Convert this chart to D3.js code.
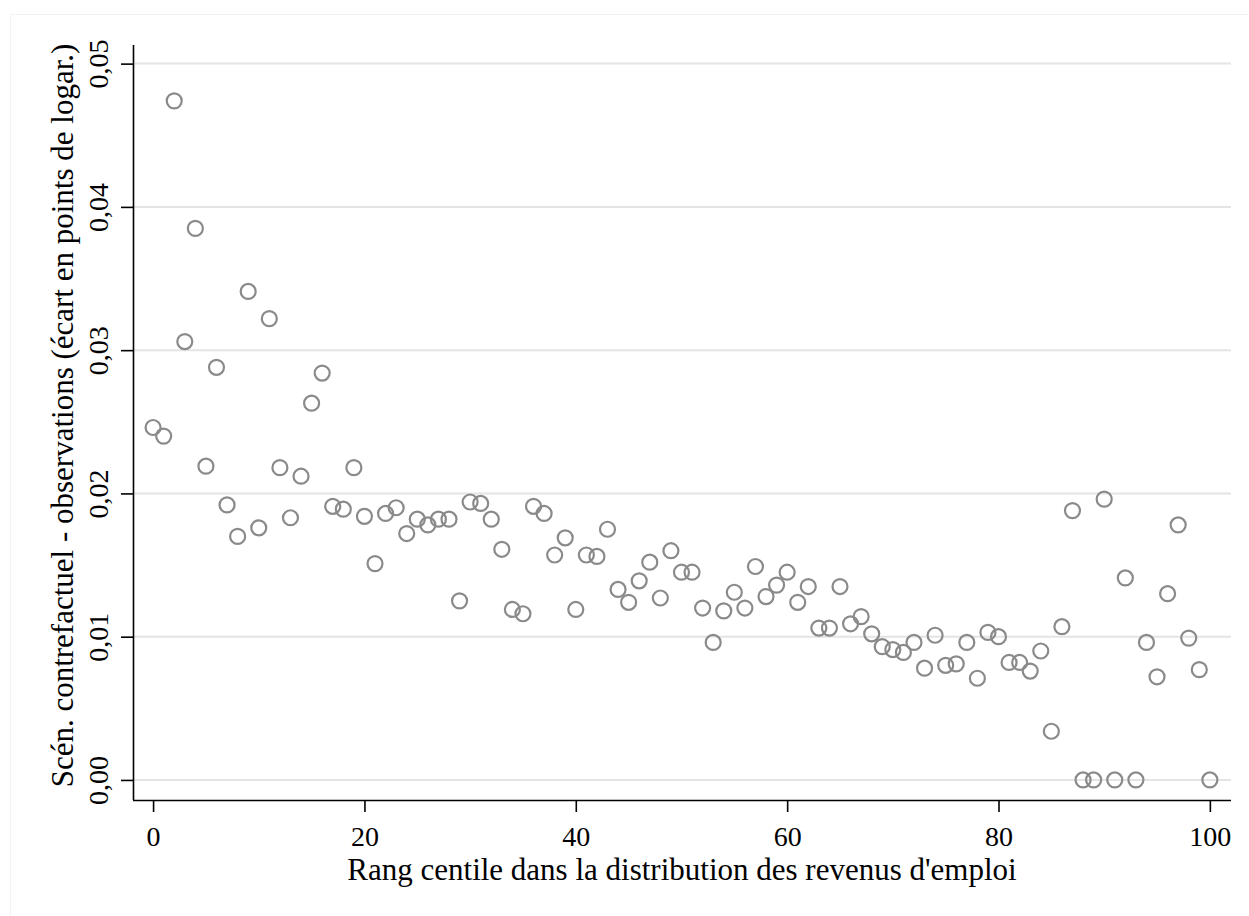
<!DOCTYPE html>
<html>
<head>
<meta charset="utf-8">
<script src="https://cdn.jsdelivr.net/npm/d3@7"></script>
<style>
  body { margin: 0; background: #fff; }
  svg { display: block; }
  text { font-family: "Liberation Serif", "DejaVu Serif", serif; fill: #000; }
</style>
</head>
<body>
<svg id="chart" width="1249" height="916"></svg>
<script>
// centile rank 0..100
var centiles = d3.range(0, 101);
var gaps = [
    0.0246, 0.0240, 0.0474, 0.0306, 0.0385, 0.0219, 0.0288, 0.0192, 0.0170, 0.0341,
    0.0176, 0.0322, 0.0218, 0.0183, 0.0212, 0.0263, 0.0284, 0.0191, 0.0189, 0.0218,
    0.0184, 0.0151, 0.0186, 0.0190, 0.0172, 0.0182, 0.0178, 0.0182, 0.0182, 0.0125,
    0.0194, 0.0193, 0.0182, 0.0161, 0.0119, 0.0116, 0.0191, 0.0186, 0.0157, 0.0169,
    0.0119, 0.0157, 0.0156, 0.0175, 0.0133, 0.0124, 0.0139, 0.0152, 0.0127, 0.0160,
    0.0145, 0.0145, 0.0120, 0.0096, 0.0118, 0.0131, 0.0120, 0.0149, 0.0128, 0.0136,
    0.0145, 0.0124, 0.0135, 0.0106, 0.0106, 0.0135, 0.0109, 0.0114, 0.0102, 0.0093,
    0.0091, 0.0089, 0.0096, 0.0078, 0.0101, 0.0080, 0.0081, 0.0096, 0.0071, 0.0103,
    0.0100, 0.0082, 0.0082, 0.0076, 0.0090, 0.0034, 0.0107, 0.0188, 0.0000, 0.0000,
    0.0196, 0.0000, 0.0141, 0.0000, 0.0096, 0.0072, 0.0130, 0.0178, 0.0099, 0.0077,
    0.0000
];
var xTicks = [0, 20, 40, 60, 80, 100];
var yTicks = [0, 0.01, 0.02, 0.03, 0.04, 0.05];
var xTitle = "Rang centile dans la distribution des revenus d'emploi";
var yTitle = "Scén. contrefactuel - observations (écart en points de logar.)";

var points = centiles.map(function (c, i) { return {x: c, y: gaps[i]}; });

var svg = d3.select("#chart");
var plot = {left: 133, right: 1231, top: 45, bottom: 800};

// faint outer frame
svg.append("rect")
    .attr("x", 10.5).attr("y", 14.5)
    .attr("width", 1260).attr("height", 920)
    .attr("fill", "none")
    .attr("stroke", "#f2f2f2");

var x = d3.scaleLinear().domain([-1.9, 102]).range([plot.left, plot.right]);
var y = d3.scaleLinear().domain([-0.0014, 0.0513]).range([plot.bottom, plot.top]);

var fmt = function (d) { return d3.format(".2f")(d).replace(".", ","); };

// grid lines
svg.append("g")
    .selectAll("line")
    .data(yTicks)
    .enter().append("line")
    .attr("x1", plot.left).attr("x2", plot.right)
    .attr("y1", function (d) { return y(d); })
    .attr("y2", function (d) { return y(d); })
    .attr("stroke", "#e4e4e4")
    .attr("stroke-width", 2);

// y axis
var yAxis = svg.append("g")
    .attr("transform", "translate(" + plot.left + ",0)")
    .call(d3.axisLeft(y).tickValues(yTicks).tickSize(12).tickPadding(0).tickFormat(fmt));
yAxis.select(".domain").attr("stroke", "#000").attr("stroke-width", 1.6)
    .attr("d", "M0.5," + plot.top + "V" + plot.bottom);
yAxis.selectAll(".tick line").attr("stroke", "#000").attr("stroke-width", 1.6);
yAxis.selectAll(".tick text")
    .attr("x", 0).attr("y", 0).attr("dy", null)
    .attr("transform", "translate(-25,0) rotate(-90)")
    .attr("text-anchor", "middle")
    .style("font-size", "28px")
    .style("font-family", "Liberation Serif");

// x axis
var xAxis = svg.append("g")
    .attr("transform", "translate(0," + plot.bottom + ")")
    .call(d3.axisBottom(x).tickValues(xTicks).tickSize(12).tickPadding(0));
xAxis.select(".domain").attr("stroke", "#000").attr("stroke-width", 1.6)
    .attr("d", "M" + plot.left + ",0.5H" + plot.right);
xAxis.selectAll(".tick line").attr("stroke", "#000").attr("stroke-width", 1.6);
xAxis.selectAll(".tick text")
    .attr("y", 46).attr("dy", null)
    .style("font-size", "28px")
    .style("font-family", "Liberation Serif");

// axis titles
svg.append("text")
    .attr("x", (plot.left + plot.right) / 2)
    .attr("y", 880)
    .attr("text-anchor", "middle")
    .style("font-size", "31px")
    .text(xTitle);

svg.append("text")
    .attr("transform", "translate(73," + ((plot.top + plot.bottom) / 2 - 7) + ") rotate(-90)")
    .attr("text-anchor", "middle")
    .style("font-size", "31px")
    .text(yTitle);

// markers
svg.append("g")
    .selectAll("circle")
    .data(points)
    .enter().append("circle")
    .attr("cx", function (d) { return x(d.x); })
    .attr("cy", function (d) { return y(d.y); })
    .attr("r", 7.5)
    .attr("fill", "none")
    .attr("stroke", "#8a8a8a")
    .attr("stroke-width", 2.2);
</script>
</body>
</html>
